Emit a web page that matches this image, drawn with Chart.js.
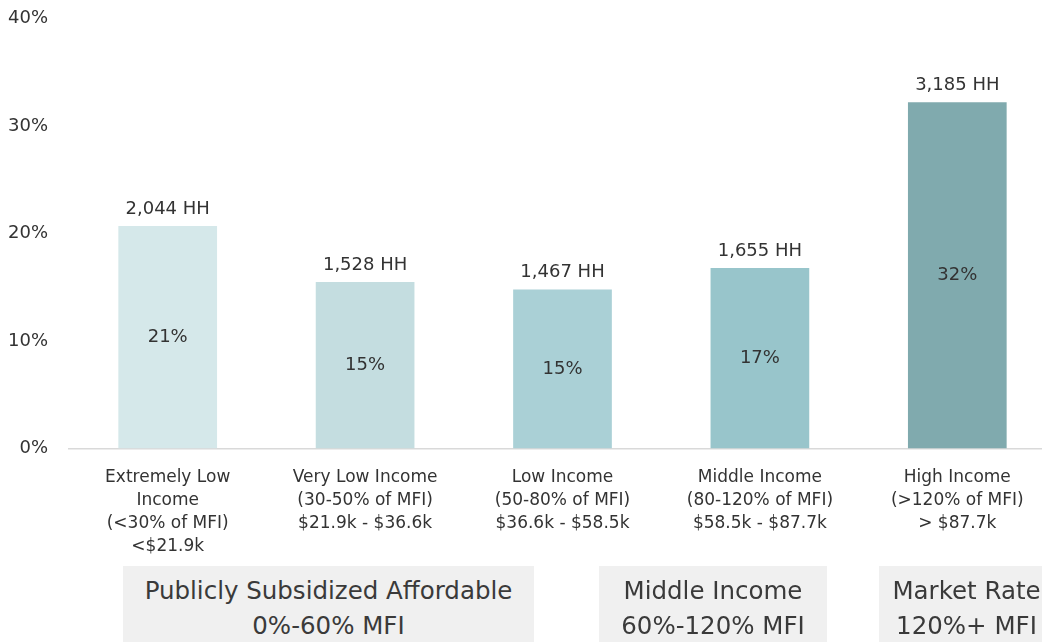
<!DOCTYPE html>
<html>
<head>
<meta charset="utf-8">
<script src="https://cdn.jsdelivr.net/npm/chart.js@4"></script>
<style>
  html, body { margin: 0; padding: 0; background: #ffffff; overflow: hidden; }
  #wrap { position: relative; width: 1042px; height: 642px; overflow: hidden; }
  #chart { position: absolute; left: 0; top: 0; }
  .band {
    position: absolute; top: 566px; height: 90px;
    background: #f0f0f0; color: #3a3a3a;
    font-family: "DejaVu Sans", sans-serif; font-size: 24.5px; line-height: 35px;
    text-align: center; padding-top: 7px; box-sizing: border-box; white-space: nowrap;
  }
</style>
</head>
<body>
<div id="wrap">
  <canvas id="chart" width="1060" height="642"></canvas>
  <div class="band" style="left:123px; width:411px;">Publicly Subsidized Affordable<br>0%-60% MFI</div>
  <div class="band" style="left:599px; width:228px;">Middle Income<br>60%-120% MFI</div>
  <div class="band" style="left:879px; width:175px;">Market Rate<br>120%+ MFI</div>
</div>
<script>
// Income brackets
const categories = [
  ['Extremely Low', 'Income', '(<30% of MFI)', '<$21.9k'],
  ['Very Low Income', '(30-50% of MFI)', '$21.9k - $36.6k'],
  ['Low Income', '(50-80% of MFI)', '$36.6k - $58.5k'],
  ['Middle Income', '(80-120% of MFI)', '$58.5k - $87.7k'],
  ['High Income', '(>120% of MFI)', '> $87.7k']
];
// Households in each bracket
const households = [2044, 1528, 1467, 1655, 3185];
// Share of all households (%)
const shares = [20.7, 15.5, 14.8, 16.8, 32.2];
// Share labels shown inside the bars
const shareLabels = ['21%', '15%', '15%', '17%', '32%'];
// Y axis ticks (%)
const yTicks = [0, 10, 20, 30, 40];

const barColors = ['#d5e8ea', '#c4dde0', '#aad0d6', '#98c5cb', '#80aaae'];
const textColor = '#333333';
const fontFamily = '"DejaVu Sans", sans-serif';

const barLabels = {
  id: 'barLabels',
  afterDatasetsDraw(chart) {
    const ctx = chart.ctx;
    const meta = chart.getDatasetMeta(0);
    ctx.save();
    ctx.fillStyle = textColor;
    ctx.textAlign = 'center';
    ctx.font = '18px ' + fontFamily;
    meta.data.forEach((bar, i) => {
      ctx.textBaseline = 'alphabetic';
      ctx.fillText(households[i].toLocaleString('en-US') + ' HH', bar.x, bar.y - 12);
      ctx.textBaseline = 'middle';
      ctx.fillText(shareLabels[i], bar.x, (bar.y + bar.base) / 2);
    });
    ctx.restore();
  }
};

new Chart(document.getElementById('chart'), {
  type: 'bar',
  data: {
    labels: categories,
    datasets: [{
      data: shares,
      backgroundColor: barColors,
      borderWidth: 0,
      barPercentage: 0.5,
      categoryPercentage: 1.0
    }]
  },
  options: {
    responsive: false,
    animation: false,
    devicePixelRatio: 1,
    layout: { padding: { top: 18.5, right: 4, bottom: 0, left: 0 } },
    plugins: { legend: { display: false }, tooltip: { enabled: false } },
    scales: {
      x: {
        grid: { display: false, drawTicks: false },
        border: { display: true, color: '#d9d9d9', width: 1.5 },
        ticks: {
          color: textColor,
          padding: 17,
          maxRotation: 0,
          autoSkip: false,
          font: { family: fontFamily, size: 17, lineHeight: 1.37 }
        },
        afterFit(scale) {
          scale.height = 193.5;
          scale.paddingLeft = 0;
          scale.paddingRight = 0;
        }
      },
      y: {
        min: 0,
        max: 40,
        grid: { display: false, drawTicks: false },
        border: { display: false },
        afterBuildTicks(scale) { scale.ticks = yTicks.map(v => ({ value: v })); },
        ticks: {
          color: textColor,
          padding: 21,
          font: { family: fontFamily, size: 18 },
          callback: v => v + '%'
        },
        afterFit(scale) {
          scale.width = 69;
          scale.paddingTop = 0;
          scale.paddingBottom = 0;
        }
      }
    }
  },
  plugins: [barLabels]
});
</script>
</body>
</html>
